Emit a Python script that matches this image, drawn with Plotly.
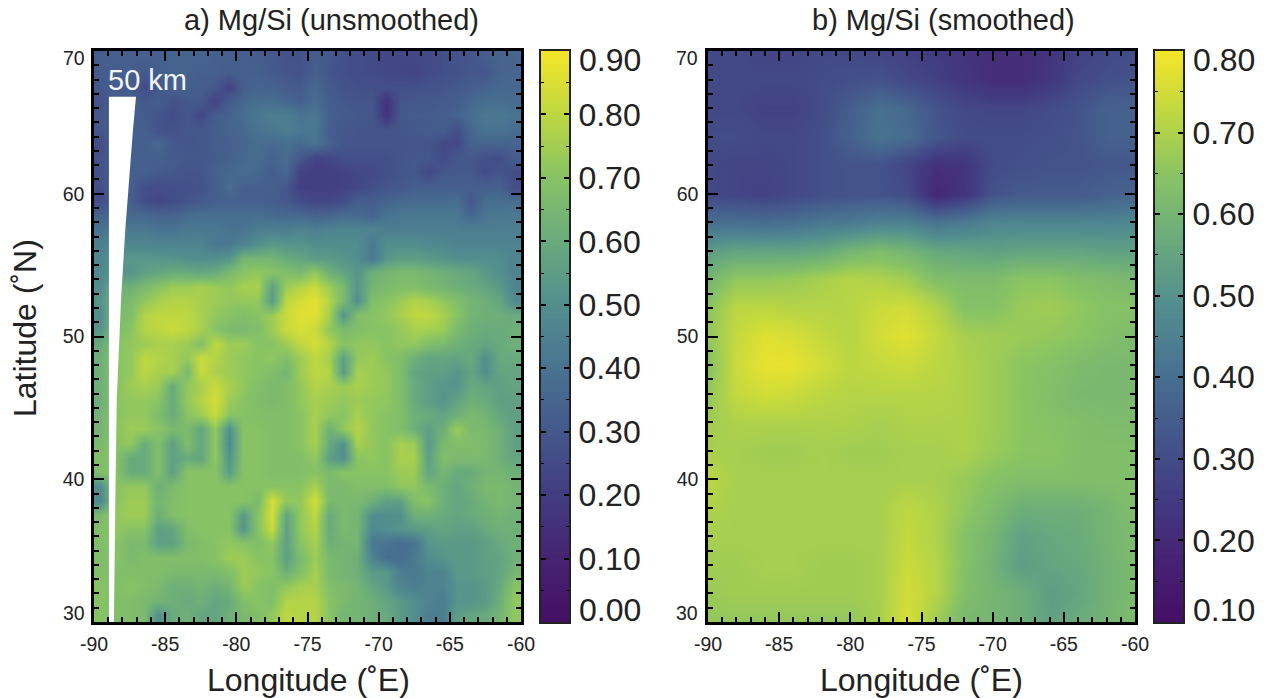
import numpy as np
import plotly.graph_objects as go

W, H = 1269, 698

# Longitude / latitude cell centres for panel a (rows listed north to south)
lon_a = [-89.5 + i for i in range(30)]
lat_a = [69.5 - i for i in range(40)]

# Panel a: Mg/Si x 100
mgsi_unsmoothed = [
    [32,33,33,33,33,34,34,34,33,33,33,32,30,28,28,32,30,27,26,25,24,24,24,25,27,28,29,32,34,35],
    [32,32,33,30,33,34,34,33,33,32,33,33,31,29,28,33,29,27,26,25,24,24,23,25,27,28,30,29,34,35],
    [30,31,32,26,30,33,33,32,30,22,33,34,34,32,31,36,31,28,27,27,27,27,27,28,29,30,32,34,36,36],
    [28,33,33,30,32,28,30,31,22,31,36,38,38,36,33,38,32,30,29,29,16,29,30,30,31,32,36,38,38,37],
    [30,33,33,31,29,26,30,24,32,34,38,42,44,44,40,42,33,31,30,30,16,30,31,31,32,34,38,42,42,40],
    [30,33,33,33,28,28,30,30,32,34,36,40,42,44,42,42,32,30,29,29,29,29,30,31,32,26,36,40,40,38],
    [26,33,33,33,36,30,29,30,32,33,35,38,36,38,36,40,34,29,29,29,29,29,29,29,25,25,34,34,34,34],
    [28,33,33,33,33,31,30,30,31,34,36,37,34,38,30,22,24,27,27,27,27,29,30,30,25,30,30,27,26,32],
    [28,33,33,33,31,30,29,29,33,36,37,36,32,36,22,21,21,22,24,25,27,29,30,24,30,30,30,26,29,26],
    [27,33,33,27,26,27,27,28,32,38,33,33,33,30,21,21,21,22,24,27,29,30,32,33,33,33,33,33,33,26],
    [26,33,33,26,24,26,29,31,33,33,33,33,32,30,26,24,24,26,32,32,34,36,37,37,37,38,30,38,38,38],
    [34,36,36,36,34,34,37,38,38,38,38,38,37,36,36,34,35,37,37,34,40,41,42,42,42,42,35,41,42,42],
    [40,42,42,42,40,40,42,42,42,40,40,44,44,44,46,44,46,46,46,46,44,44,44,44,44,44,44,44,44,44],
    [45,47,47,47,46,46,46,46,42,42,46,50,54,52,52,50,50,50,50,42,50,50,50,48,48,46,46,46,46,46],
    [47,52,53,53,53,52,50,50,50,52,64,64,64,60,58,54,54,52,50,42,52,55,55,54,52,50,50,50,50,46],
    [48,52,52,56,58,60,60,58,60,66,70,72,70,68,66,72,62,58,52,62,64,66,66,64,62,60,58,54,50,46],
    [50,62,62,66,70,74,74,76,74,72,76,76,56,74,78,82,74,66,52,64,66,68,68,66,64,62,60,58,54,46],
    [52,64,66,72,76,78,78,76,74,72,72,72,54,80,84,87,78,66,50,68,70,74,78,76,72,68,64,62,58,48],
    [50,66,68,78,80,80,80,76,72,70,68,70,74,82,86,86,76,52,68,70,72,76,80,80,76,70,64,62,62,60],
    [52,68,70,78,80,82,80,76,70,66,66,68,74,82,85,82,72,66,68,70,70,72,76,76,74,66,62,60,60,62],
    [60,70,72,74,76,76,74,68,80,74,74,70,70,74,80,84,78,70,72,72,70,72,72,68,66,62,60,58,60,62],
    [62,70,72,80,78,76,72,82,78,74,72,70,72,68,74,80,76,56,72,74,70,68,62,58,58,58,60,50,60,60],
    [62,70,72,80,76,76,66,82,76,74,72,70,68,64,74,80,78,54,76,74,72,68,58,56,56,52,58,50,58,58],
    [62,70,74,76,74,60,72,76,82,76,72,68,66,68,72,78,76,74,76,74,72,68,60,56,52,52,60,58,56,58],
    [62,70,72,72,70,60,72,78,84,74,70,68,66,68,72,76,74,72,74,72,72,68,60,56,52,58,62,60,56,56],
    [64,70,72,72,68,60,70,74,82,70,70,68,68,68,70,76,72,70,76,72,70,68,62,60,58,62,66,64,58,56],
    [64,70,74,74,70,66,66,58,72,50,70,70,68,68,70,76,62,72,78,72,70,68,62,56,62,74,66,66,62,56],
    [66,70,72,60,68,56,68,58,72,48,70,70,68,68,70,76,60,50,76,72,70,76,74,54,66,68,68,66,62,56],
    [68,70,60,60,68,56,60,58,72,52,70,70,68,68,68,72,56,50,70,72,70,76,76,56,68,66,66,66,62,58],
    [68,70,60,60,68,56,70,70,70,54,70,70,68,68,68,70,66,70,70,70,70,74,74,58,64,60,60,64,64,62],
    [50,70,72,72,62,66,70,70,70,70,70,70,70,70,70,76,66,66,68,68,68,72,72,66,62,58,62,66,66,64],
    [48,70,74,74,64,68,70,70,70,70,70,66,84,72,72,84,66,66,66,62,56,56,68,70,62,58,60,64,66,64],
    [66,72,74,74,62,68,70,70,70,70,54,70,84,58,72,80,60,66,64,50,50,50,62,62,60,58,60,62,64,62],
    [68,72,70,70,56,58,68,70,70,70,52,70,82,56,72,78,60,66,64,48,50,52,54,56,58,56,56,60,62,62],
    [68,70,66,66,56,56,66,68,70,72,70,68,72,56,70,76,62,64,64,42,40,38,40,52,54,54,54,56,60,62],
    [68,70,66,68,68,68,68,68,70,74,74,70,70,56,66,74,66,64,62,46,38,38,42,50,52,54,54,56,58,62],
    [68,68,68,68,68,66,66,66,66,68,74,72,70,62,68,76,66,64,62,54,54,44,42,46,46,54,54,56,58,64],
    [70,68,70,68,66,62,62,64,62,64,74,70,68,72,76,76,68,66,64,58,54,46,44,46,46,52,52,54,60,70],
    [70,68,68,66,64,62,60,62,58,60,68,70,68,78,78,78,70,66,64,62,58,54,50,46,44,52,52,54,62,72],
    [70,68,68,66,50,60,62,58,58,62,66,68,72,80,78,78,70,64,64,62,60,54,50,44,44,56,58,60,64,72],
]

# Panel b: Mg/Si x 100 at 2-degree nodes, north to south
lon_b = [-90,-88,-86,-84,-82,-80,-78,-76,-74,-72,-70,-68,-66,-64,-62,-60]
lat_b = [70,68,66,64,62,60,58,56,54,52,50,48,46,44,42,40,38,36,34,32,30]
mgsi_smoothed = [
    [29,29,28,28,29,29,28,27,25,23,21,21,23,27,29,30],
    [29,29,29,29,30,31,32,29,27,24,21,21,24,29,31,32],
    [29,29,27,27,30,35,40,38,32,29,28,28,30,32,36,36],
    [30,30,29,29,31,36,41,39,33,30,30,30,31,32,36,36],
    [29,28,28,29,31,32,32,28,22,23,30,31,32,32,33,33],
    [29,28,27,29,31,32,32,30,19,23,32,34,34,34,36,37],
    [40,40,39,40,42,43,45,45,41,43,46,46,46,46,46,47],
    [53,55,55,55,56,60,62,60,56,55,54,55,55,55,54,54],
    [60,66,66,67,69,71,70,68,63,62,62,65,65,63,62,61],
    [65,72,72,71,71,71,74,75,71,64,64,67,68,66,64,64],
    [66,73,77,76,73,71,75,77,73,69,68,67,66,65,63,62],
    [64,74,78,78,75,72,73,74,72,70,68,65,64,62,61,61],
    [66,73,75,74,72,71,71,71,71,70,68,65,63,61,61,61],
    [68,70,70,70,70,70,69,70,70,70,68,65,64,63,62,62],
    [69,69,68,68,69,68,68,69,69,70,67,65,65,63,63,63],
    [72,69,69,69,69,69,69,69,69,67,64,63,63,63,63,63],
    [70,69,69,69,69,69,69,72,70,66,62,58,58,58,60,63],
    [69,69,69,69,69,69,69,73,70,64,60,54,56,57,60,62],
    [68,68,69,69,68,68,69,74,71,64,59,53,55,56,59,62],
    [67,68,68,68,68,68,69,75,71,63,60,58,53,55,59,62],
    [66,66,66,66,66,66,69,76,68,61,60,58,54,57,60,62],
]

# White 50 km scale wedge (lon/lat)
wedge_lon = [-88.95,-87.05,-87.26,-87.6,-87.8,-88.1,-88.4,-88.5,-88.6,-88.95]
wedge_lat = [66.8,66.8,64.5,59.8,57.5,52.6,45.6,38.5,30,30]

lon_ticks = [-90,-85,-80,-75,-70,-65,-60]
lon_labels = ["-90","-85","-80","-75","-70","-65","-60"]
lat_ticks = [30,40,50,60,70]
lat_labels = ["","40","50","60",""]

cb_a_ticks = [0.1,0.2,0.3,0.4,0.5,0.6,0.7,0.8]
cb_a_labels = ["0.10","0.20","0.30","0.40","0.50","0.60","0.70","0.80"]
cb_b_ticks = [0.2,0.3,0.4,0.5,0.6,0.7]
cb_b_labels = ["0.20","0.30","0.40","0.50","0.60","0.70"]

# Muted viridis as seen in the colour bars
SCALE = [[0/9,"rgb(68,15,100)"],[1/9,"rgb(70,35,115)"],[2/9,"rgb(66,60,130)"],
         [3/9,"rgb(68,88,140)"],[4/9,"rgb(72,115,145)"],[5/9,"rgb(82,142,142)"],
         [6/9,"rgb(105,170,125)"],[7/9,"rgb(135,195,100)"],[8/9,"rgb(190,215,65)"],
         [9/9,"rgb(245,230,40)"]]

FONT = "Liberation Sans, Arial, sans-serif"
INK = "#222222"

def dx(a, b): return [a / W, b / W]
def dy(top, bottom): return [1 - bottom / H, 1 - top / H]

fig = go.Figure()

fig.add_trace(go.Heatmap(x=lon_a, y=lat_a, z=np.array(mgsi_unsmoothed) / 100,
                         colorscale=SCALE, zmin=0, zmax=0.9, showscale=False,
                         zsmooth="best", xaxis="x", yaxis="y"))
fig.add_trace(go.Scatter(x=wedge_lon, y=wedge_lat, mode="lines", fill="toself",
                         fillcolor="white", line=dict(color="white", width=0),
                         hoverinfo="skip", showlegend=False, xaxis="x", yaxis="y"))
fig.add_trace(go.Heatmap(x=lon_b, y=lat_b, z=np.array(mgsi_smoothed) / 100,
                         colorscale=SCALE, zmin=0.1, zmax=0.8, showscale=False,
                         zsmooth="best", xaxis="x2", yaxis="y2"))

# Colour bars as small heatmaps on their own axes
levels_a = np.linspace(0, 0.9, 181)
levels_b = np.linspace(0.1, 0.8, 181)
fig.add_trace(go.Heatmap(x=[0, 1], y=levels_a, z=[[v, v] for v in levels_a],
                         colorscale=SCALE, zmin=0, zmax=0.9, showscale=False,
                         hoverinfo="skip", xaxis="x3", yaxis="y3"))
fig.add_trace(go.Heatmap(x=[0, 1], y=levels_b, z=[[v, v] for v in levels_b],
                         colorscale=SCALE, zmin=0.1, zmax=0.8, showscale=False,
                         hoverinfo="skip", xaxis="x4", yaxis="y4"))

def map_axis(domain, anchor, rng, tickvals, ticktext, minor=1, font=19.5):
    return dict(domain=domain, anchor=anchor, range=rng, tickmode="array", automargin=False,
             tickvals=tickvals, ticktext=ticktext, ticks="inside", ticklen=10,
             tickwidth=2, tickcolor="black", showline=True, linecolor="black",
             linewidth=2.5, mirror="allticks", showgrid=False, zeroline=False,
             ticklabelstandoff=3,
             tickfont=dict(family=FONT, size=font, color=INK),
             minor=dict(ticks="inside", ticklen=5, tickwidth=1.5, tickcolor="black",
                        dtick=minor, tick0=0, showgrid=False))

def cb_x(domain, anchor):
    return dict(domain=domain, anchor=anchor, range=[0, 1], showticklabels=False,
                ticks="", showline=True, linecolor="#222", linewidth=2, mirror=True,
                showgrid=False, zeroline=False, automargin=False)

def cb_y(domain, anchor, rng, vals, text):
    return dict(domain=domain, anchor=anchor, side="right", range=rng, tickmode="array",
                tickvals=vals, ticktext=text, ticks="inside", ticklen=5, tickwidth=1.5,
                tickcolor="black", showline=True, linecolor="#222", linewidth=2,
                mirror="allticks", showgrid=False, zeroline=False, ticklabelstandoff=1,
                automargin=False, tickfont=dict(family=FONT, size=32, color=INK),
                minor=dict(ticks="inside", ticklen=3, tickwidth=1.2, tickcolor="black",
                           dtick=0.1, tick0=0.05, showgrid=False))

fig.update_layout(
    width=W, height=H, margin=dict(l=0, r=0, t=0, b=0),
    paper_bgcolor="white", plot_bgcolor="white", showlegend=False,
    xaxis=map_axis(dx(94, 521), "y", [-90, -60], lon_ticks, lon_labels),
    yaxis=map_axis(dy(51, 622), "x", [30, 70], lat_ticks, lat_labels),
    xaxis2=map_axis(dx(708, 1135), "y2", [-90, -60], lon_ticks, lon_labels),
    yaxis2=map_axis(dy(51, 622), "x2", [30, 70], lat_ticks, lat_labels),
    xaxis3=cb_x(dx(541, 569), "y3"),
    yaxis3=cb_y(dy(51, 622), "x3", [0, 0.9], cb_a_ticks, cb_a_labels),
    xaxis4=cb_x(dx(1155, 1183), "y4"),
    yaxis4=cb_y(dy(51, 622), "x4", [0.1, 0.8], cb_b_ticks, cb_b_labels),
)

def px_text(x, y, text, size, color=INK, xanchor="center", angle=0):
    fig.add_annotation(x=x / W, y=1 - y / H, xref="paper", yref="paper", text=text,
                       showarrow=False, xanchor=xanchor, yanchor="middle", textangle=angle,
                       font=dict(family=FONT, size=size, color=color))

px_text(331, 20, "a) Mg/Si (unsmoothed)", 29)
px_text(943, 20, "b) Mg/Si (smoothed)", 29)
px_text(147, 80, "50 km", 29, color="#f2f4f6")
px_text(308, 680, "Longitude (˚E)", 32)
px_text(921, 680, "Longitude (˚E)", 32)
px_text(25, 328, "Latitude (˚N)", 32, angle=-90)
# End labels of the colour bars and latitude axes sit inside the axis ends
px_text(577, 60, "0.90", 32, xanchor="left")
px_text(577, 610, "0.00", 32, xanchor="left")
px_text(1191, 60, "0.80", 32, xanchor="left")
px_text(1191, 610, "0.10", 32, xanchor="left")
px_text(87, 58, "70", 19.5, xanchor="right")
px_text(87, 613, "30", 19.5, xanchor="right")
px_text(700, 58, "70", 19.5, xanchor="right")
px_text(700, 613, "30", 19.5, xanchor="right")

fig.write_html("out.html", config={"displayModeBar": False},
               post_script="document.body.style.margin='0';document.body.style.overflow='hidden';")
